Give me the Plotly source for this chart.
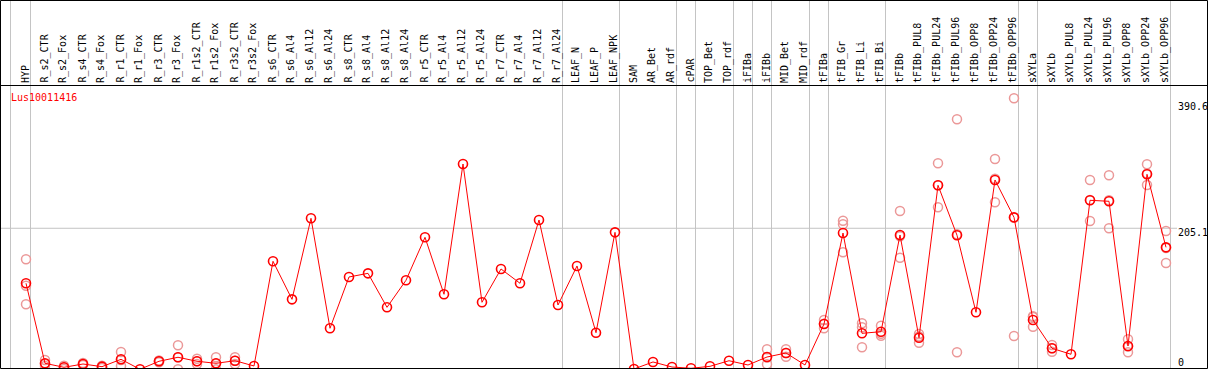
import plotly.graph_objects as go

W, H = 1209, 370

categories = ["HYP", "R_s2_CTR", "R_s2_Fox", "R_s4_CTR", "R_s4_Fox", "R_r1_CTR", "R_r1_Fox",
              "R_r3_CTR", "R_r3_Fox", "R_r1s2_CTR", "R_r1s2_Fox", "R_r3s2_CTR", "R_r3s2_Fox",
              "R_s6_CTR", "R_s6_Al4", "R_s6_Al12", "R_s6_Al24", "R_s8_CTR", "R_s8_Al4", "R_s8_Al12",
              "R_s8_Al24", "R_r5_CTR", "R_r5_Al4", "R_r5_Al12", "R_r5_Al24", "R_r7_CTR", "R_r7_Al4",
              "R_r7_Al12", "R_r7_Al24", "LEAF_N", "LEAF_P", "LEAF_NPK", "SAM", "AR_Bet", "AR_rdf",
              "cPAR", "TOP_Bet", "TOP_rdf", "iFIBa", "iFIBb", "MID_Bet", "MID_rdf", "tFIBa",
              "tFIB_Gr", "tFIB_Li", "tFIB_Bi", "tFIBb", "tFIBb_PUL8", "tFIBb_PUL24", "tFIBb_PUL96",
              "tFIBb_OPP8", "tFIBb_OPP24", "tFIBb_OPP96", "sXYLa", "sXYLb", "sXYLb_PUL8",
              "sXYLb_PUL24", "sXYLb_PUL96", "sXYLb_OPP8", "sXYLb_OPP24", "sXYLb_OPP96"]

means = [126.6, 12.4, 6.7, 11.4, 7.6, 18.1, 3.9, 15.3, 21.0, 15.3, 12.4, 16.1, 8.6,
         158.0, 103.7, 219.3, 62.4, 135.6, 140.8, 92.3, 130.9, 192.2, 110.9, 296.8, 99.5,
         147.0, 126.6, 216.9, 95.6, 151.3, 56.1, 199.3, 4.3, 14.3, 7.1, 5.3, 8.1, 16.1,
         10.0, 21.4, 27.1, 10.0, 68.5, 198.3, 55.2, 57.5, 195.5, 48.9, 266.4, 195.1, 85.2,
         274.0, 220.7, 74.2, 33.8, 25.3, 245.0, 243.6, 37.1, 282.1, 177.9]

N = None
rep_a = [160.8, 17.1, 9.0, 12.8, 9.0, 28.5, N, 16.5, 38.1, 19.0, 21.0, 21.0, N,
         N, N, N, N, N, N, N, N, N, N, N, N, N, N, N, N, N, N, N, N, N, N, N, N, N,
         N, 32.4, 32.4, N, 74.2, 215.9, 69.5, 66.1, 229.7, 54.2, 297.8, 360.6, N,
         303.9, 390.6, 64.6, 38.5, N, 274.0, 280.7, 46.7, 296.4, 201.2]
rep_b = [123.1, 8.6, 4.3, 10.0, 5.7, 8.6, N, 14.0, 3.9, 11.4, 3.9, 11.4, N,
         N, N, N, N, N, N, N, N, N, N, N, N, N, N, N, N, N, N, N, N, N, N, N, N, N,
         N, 11.0, 21.8, N, 62.4, 210.8, 63.8, 51.8, 163.1, 41.8, 235.0, 28.1, N,
         242.2, 51.4, 78.5, 29.0, N, 215.5, 205.1, 28.1, 266.8, 155.5]
rep_c = [96.6, 11.5, 6.8, 11.4, 8.1, 17.2, N, 15.4, 21.0, 15.5, 12.3, 15.9, N,
         N, N, N, N, N, N, N, N, N, N, N, N, N, N, N, N, N, N, N, N, N, N, N, N, N,
         N, 20.8, 27.1, N, 68.9, 170.8, 35.2, 54.6, 193.7, 50.7, 266.4, 196.6, N,
         275.9, 220.1, 79.5, 33.9, N, 245.5, 245.0, 36.5, 283.1, 177.0]

# group separators: drawn after these categories
group_ends = ["HYP", "R_r7_Al24", "LEAF_NPK", "AR_rdf", "cPAR", "TOP_rdf", "iFIBa", "iFIBb",
              "MID_rdf", "tFIBa", "tFIB_Bi", "tFIBb_OPP96", "sXYLa", "sXYLb_OPP96"]

axis_labels = ["390.6", "205.1", "0"]
gene = "Lus10011416"

# ---- geometry helpers (pixel -> paper) ----
def px(x):
    return x / W

def py(y):
    return 1 - y / H

X0, DX = 26, 19          # pixel of first category, spacing
PLOT_TOP, PLOT_BOT = 86, 368
Y0PIX, YS = 372.0, 0.7008   # value -> pixel: y = Y0PIX - YS*v

xs = list(range(len(categories)))
xrange_ = [-X0 / DX, (W - X0) / DX]
yrange_ = [(Y0PIX - PLOT_BOT) / YS, (Y0PIX - PLOT_TOP) / YS]

fig = go.Figure()

faded = "#eb9898"
for reps in (rep_a, rep_b, rep_c):
    fig.add_trace(go.Scatter(
        x=xs, y=reps, mode="markers",
        marker=dict(symbol="circle-open", size=9, color=faded, line=dict(width=1.5, color=faded)),
        hoverinfo="skip", showlegend=False))

fig.add_trace(go.Scatter(
    x=xs, y=means, mode="lines+markers",
    line=dict(color="#ff0000", width=1),
    marker=dict(symbol="circle-open", size=9, color="#ff0000", line=dict(width=1.6, color="#ff0000")),
    showlegend=False))

shapes = []
grey = "#c4c4c4"
sep_x = [(10.5 - X0) / DX] + [categories.index(c) + 4.5 / DX for c in group_ends]
for sx in sep_x:
    shapes.append(dict(type="line", xref="x", yref="paper", x0=sx, x1=sx,
                       y0=py(368), y1=py(0), line=dict(color=grey, width=1), layer="below"))
shapes.append(dict(type="line", xref="paper", yref="y", x0=px(1), x1=px(1177), y0=205.1, y1=205.1,
                   line=dict(color=grey, width=1), layer="below"))
shapes.append(dict(type="line", xref="paper", yref="paper", x0=px(0), x1=px(1208),
                   y0=py(85.5), y1=py(85.5), line=dict(color="black", width=1)))
shapes.append(dict(type="rect", xref="paper", yref="paper", x0=px(0.5), x1=px(1207.5),
                   y0=py(368.5), y1=py(0.5), line=dict(color="black", width=1)))

annotations = []
font = dict(family="DejaVu Sans Mono", size=10, color="black")
for i, c in enumerate(categories):
    annotations.append(dict(x=i, y=py(84), xref="x", yref="paper", text=c, textangle=-90,
                            showarrow=False, xanchor="center", yanchor="bottom",
                            font=font, borderpad=0, xshift=-1))

annotations.append(dict(x=px(10), y=py(97.5), xref="paper", yref="paper", text=gene,
                        showarrow=False, xanchor="left", yanchor="middle",
                        font=dict(family="DejaVu Sans Mono", size=10, color="#ff0000"), borderpad=0))

label_centers = [107, 232.5, 362.5]
for t, yc in zip(axis_labels, label_centers):
    annotations.append(dict(x=px(1177), y=py(yc), xref="paper", yref="paper", text=t,
                            showarrow=False, xanchor="left", yanchor="middle",
                            font=font, borderpad=0))

fig.update_layout(
    width=W, height=H,
    margin=dict(l=0, r=0, t=0, b=0),
    paper_bgcolor="white", plot_bgcolor="white",
    xaxis=dict(domain=[0, 1], range=xrange_, visible=False, showgrid=False, zeroline=False),
    yaxis=dict(domain=[py(PLOT_BOT), py(PLOT_TOP)], range=yrange_, visible=False,
               showgrid=False, zeroline=False),
    shapes=shapes, annotations=annotations,
)

fig.write_html("out.html",
               config={"displayModeBar": False},
               post_script="document.body.style.margin='0';document.body.style.padding='0';"
                           "document.body.style.overflow='hidden';")
